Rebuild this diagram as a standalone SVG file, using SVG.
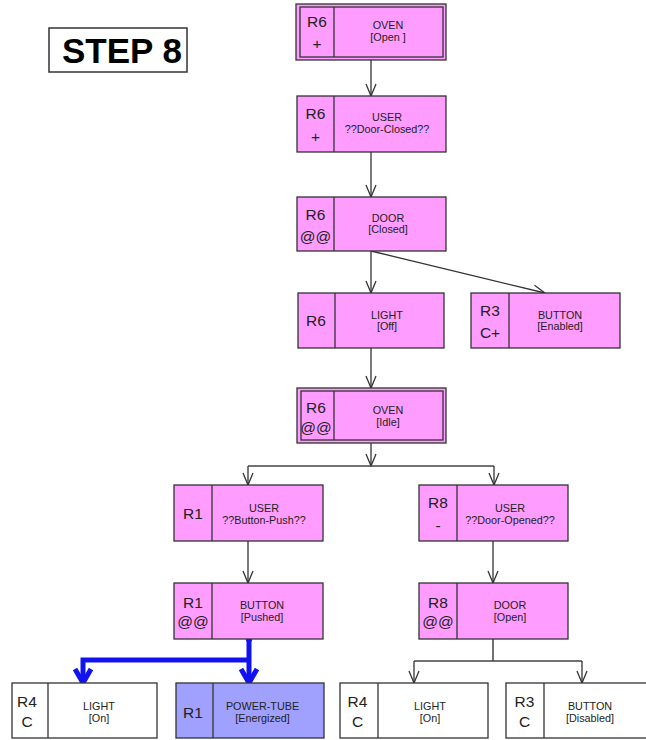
<svg xmlns="http://www.w3.org/2000/svg" width="646" height="740" viewBox="0 0 646 740">
  <style>
    .box { fill: #ff9cff; stroke: #333; stroke-width: 1.3; }
    .tube { fill: #a0a0ff; stroke: #333; stroke-width: 1.3; }
    .plain { fill: #ffffff; stroke: #333; stroke-width: 1.3; }
    .div { stroke: #333; stroke-width: 1.3; }
    .lbl { font-family: "Liberation Sans", Arial, sans-serif; font-size: 15.5px; fill: #222; text-anchor: middle; }
    .txt { font-family: "Liberation Sans", Arial, sans-serif; font-size: 10.8px; fill: #222; text-anchor: middle; }
    .conn { fill: none; stroke: #333; stroke-width: 1.3; marker-end: url(#arrow); }
    .line { fill: none; stroke: #444; stroke-width: 1.5; }
    .blue { fill: none; stroke: #1212f0; stroke-width: 5; }
    .title { font-family: "Liberation Sans", Arial, sans-serif; font-size: 35px; font-weight: bold; fill: #000; text-anchor: middle; }
  </style>
  <defs>
    <marker id="arrow" markerUnits="userSpaceOnUse" viewBox="-13 -6 14 12" refX="0" refY="0" markerWidth="14" markerHeight="12" orient="auto">
      <path d="M-12,-5 L0,0 L-12,5" fill="none" stroke="#333" stroke-width="1.3"/>
    </marker>
  </defs>

  <rect width="646" height="740" fill="#ffffff"/>

  <!-- title -->
  <g id="step">
    <rect x="49" y="28" width="138" height="44" fill="#fff" stroke="#333" stroke-width="1.5"/>
    <text class="title" x="122" y="63">STEP 8</text>
  </g>

  <!-- connectors -->
  <g id="connectors">
    <path class="conn" d="M371,60 V96"/>
    <path class="conn" d="M371,152 V197"/>
    <path class="conn" d="M371,251 V293"/>
    <path class="conn" d="M371,251 L545,293"/>
    <path class="conn" d="M371,348 V388"/>
    <path class="conn" d="M371,443 V466"/>
    <path class="line" d="M248,466 H494"/>
    <path class="conn" d="M248,466 V485"/>
    <path class="conn" d="M494,466 V485"/>
    <path class="conn" d="M248,541 V583"/>
    <path class="conn" d="M493,541 V583"/>
    <path class="line" d="M493,639 V661 M414,661 H582"/>
    <path class="conn" d="M414,661 V683"/>
    <path class="conn" d="M582,661 V683"/>
    <!-- highlighted path -->
    <g id="highlight">
      <circle cx="249" cy="639" r="3.2" fill="#1212f0"/>
      <path class="blue" d="M249,639 V680 M80.5,660 H251.5 M83,660 V680"/>
      <path class="blue" d="M241,669 L249,683 L257,669 M75,669 L83,683 L91,669" stroke-linejoin="miter"/>
    </g>
  </g>

  <!-- nodes -->
  <g id="oven-open">
    <rect class="box" x="296" y="4" width="150" height="56"/>
    <rect class="box" x="300" y="7" width="143" height="50"/>
    <line class="div" x1="334" y1="7" x2="334" y2="57"/>
    <text class="lbl" x="317" y="27">R6</text>
    <text class="lbl" x="317" y="49">+</text>
    <text class="txt" x="388" y="29">OVEN</text>
    <text class="txt" x="388" y="41">[Open ]</text>
  </g>

  <g id="user-door-closed">
    <rect class="box" x="297" y="96" width="149" height="56"/>
    <line class="div" x1="334" y1="96" x2="334" y2="152"/>
    <text class="lbl" x="315.5" y="119">R6</text>
    <text class="lbl" x="315.5" y="142">+</text>
    <text class="txt" x="387" y="121">USER</text>
    <text class="txt" x="387" y="133">??Door-Closed??</text>
  </g>

  <g id="door-closed">
    <rect class="box" x="297" y="197" width="149" height="54"/>
    <line class="div" x1="334" y1="197" x2="334" y2="251"/>
    <text class="lbl" x="315.5" y="220">R6</text>
    <text class="lbl" x="315.5" y="242">@@</text>
    <text class="txt" x="388" y="222">DOOR</text>
    <text class="txt" x="388" y="233">[Closed]</text>
  </g>

  <g id="light-off">
    <rect class="box" x="298" y="293" width="146" height="55"/>
    <line class="div" x1="335" y1="293" x2="335" y2="348"/>
    <text class="lbl" x="316" y="326">R6</text>
    <text class="txt" x="387" y="319">LIGHT</text>
    <text class="txt" x="387" y="330">[Off]</text>
  </g>

  <g id="button-enabled">
    <rect class="box" x="471" y="293" width="149" height="55"/>
    <line class="div" x1="509" y1="293" x2="509" y2="348"/>
    <text class="lbl" x="490" y="316">R3</text>
    <text class="lbl" x="490" y="338">C+</text>
    <text class="txt" x="560" y="319">BUTTON</text>
    <text class="txt" x="560" y="330">[Enabled]</text>
  </g>

  <g id="oven-idle">
    <rect class="box" x="297" y="388" width="149" height="55"/>
    <rect class="box" x="301" y="391" width="142" height="49"/>
    <line class="div" x1="334" y1="391" x2="334" y2="440"/>
    <text class="lbl" x="316" y="413">R6</text>
    <text class="lbl" x="316" y="433">@@</text>
    <text class="txt" x="388" y="414">OVEN</text>
    <text class="txt" x="388" y="426">[Idle]</text>
  </g>

  <g id="user-button-push">
    <rect class="box" x="174" y="485" width="149" height="56"/>
    <line class="div" x1="212" y1="485" x2="212" y2="541"/>
    <text class="lbl" x="193" y="519">R1</text>
    <text class="txt" x="264" y="512">USER</text>
    <text class="txt" x="264" y="524">??Button-Push??</text>
  </g>

  <g id="user-door-opened">
    <rect class="box" x="419" y="485" width="149" height="56"/>
    <line class="div" x1="457" y1="485" x2="457" y2="541"/>
    <text class="lbl" x="438" y="508">R8</text>
    <text class="lbl" x="438" y="531">-</text>
    <text class="txt" x="510" y="512">USER</text>
    <text class="txt" x="510" y="524">??Door-Opened??</text>
  </g>

  <g id="button-pushed">
    <rect class="box" x="174" y="583" width="149" height="56"/>
    <line class="div" x1="212" y1="583" x2="212" y2="639"/>
    <text class="lbl" x="193" y="608">R1</text>
    <text class="lbl" x="193" y="627">@@</text>
    <text class="txt" x="262" y="609">BUTTON</text>
    <text class="txt" x="262" y="621">[Pushed]</text>
  </g>

  <g id="door-open">
    <rect class="box" x="419" y="583" width="149" height="56"/>
    <line class="div" x1="457" y1="583" x2="457" y2="639"/>
    <text class="lbl" x="438" y="608">R8</text>
    <text class="lbl" x="438" y="627">@@</text>
    <text class="txt" x="510" y="609">DOOR</text>
    <text class="txt" x="510" y="621">[Open]</text>
  </g>

  <g id="light-on-left">
    <rect class="plain" x="12" y="683" width="145" height="55"/>
    <line class="div" x1="48" y1="683" x2="48" y2="738"/>
    <text class="lbl" x="27" y="707">R4</text>
    <text class="lbl" x="27" y="727">C</text>
    <text class="txt" x="99" y="710">LIGHT</text>
    <text class="txt" x="99" y="722">[On]</text>
  </g>

  <g id="power-tube">
    <rect class="tube" x="176" y="683" width="148" height="55"/>
    <line class="div" x1="213" y1="683" x2="213" y2="738"/>
    <text class="lbl" x="193" y="718">R1</text>
    <text class="txt" x="262.5" y="710">POWER-TUBE</text>
    <text class="txt" x="262.5" y="722">[Energized]</text>
  </g>

  <g id="light-on-right">
    <rect class="plain" x="340" y="683" width="148" height="55"/>
    <line class="div" x1="378" y1="683" x2="378" y2="738"/>
    <text class="lbl" x="357.5" y="707">R4</text>
    <text class="lbl" x="357.5" y="727">C</text>
    <text class="txt" x="430" y="710">LIGHT</text>
    <text class="txt" x="430" y="722">[On]</text>
  </g>

  <g id="button-disabled">
    <rect class="plain" x="506" y="683" width="149" height="55"/>
    <line class="div" x1="544" y1="683" x2="544" y2="738"/>
    <text class="lbl" x="524.5" y="707">R3</text>
    <text class="lbl" x="524.5" y="727">C</text>
    <text class="txt" x="590" y="710">BUTTON</text>
    <text class="txt" x="590" y="722">[Disabled]</text>
  </g>
</svg>
